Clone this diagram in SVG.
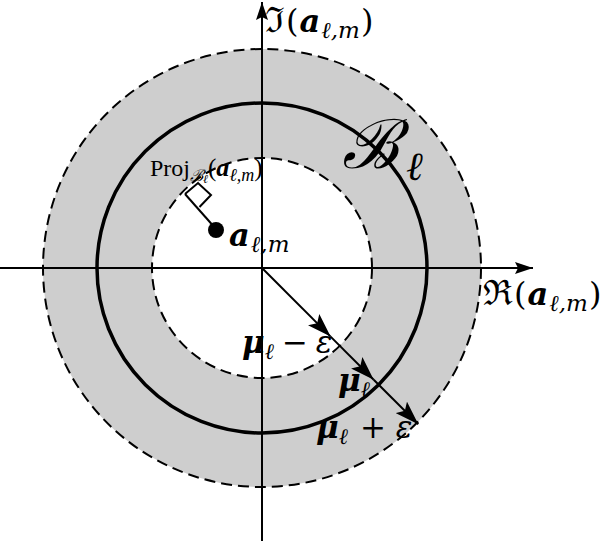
<svg xmlns="http://www.w3.org/2000/svg" width="600" height="541" viewBox="0 0 600 541">
<style>
.t{font-family:"Liberation Serif","DejaVu Serif",serif;fill:#000}
.m{font-family:"DejaVu Serif","Liberation Serif",serif;fill:#000}
.bi{font-weight:bold;font-style:italic}
.it{font-style:italic}
.dash{fill:none;stroke:#000;stroke-width:2;stroke-dasharray:11 6}
.ax{stroke:#000;stroke-width:2;fill:none}
</style>
<defs>
<marker id="ah" viewBox="0 0 24 16" refX="24" refY="8" markerWidth="24" markerHeight="16" markerUnits="userSpaceOnUse" orient="auto">
<path d="M0,0 L24,8 L0,16 L5,8 Z" fill="#000"/>
</marker>
<marker id="ax" viewBox="0 0 18 12" refX="18" refY="6" markerWidth="18" markerHeight="12" markerUnits="userSpaceOnUse" orient="auto">
<path d="M0,0 L18,6 L0,12 L3,6 Z" fill="#000"/>
</marker>
</defs>
<rect width="600" height="541" fill="#fff"/>
<g id="annulus">
<path d="M262,49 A219,219 0 1,0 262,487 A219,219 0 1,0 262,49 Z M262,158 A110,110 0 1,1 262,378 A110,110 0 1,1 262,158 Z" fill="#cecece" fill-rule="evenodd"/>
<circle cx="262" cy="268" r="219" class="dash"/>
<circle cx="262" cy="268" r="110" class="dash"/>
<circle cx="262" cy="268" r="165" fill="none" stroke="#000" stroke-width="3.5"/>
</g>
<g id="connectors">
<line x1="262" y1="541" x2="262" y2="2" class="ax" marker-end="url(#ax)"/>
<line x1="0" y1="268" x2="533" y2="268" class="ax" marker-end="url(#ax)"/>
<line x1="262" y1="268" x2="330.6" y2="336.6" class="ax" marker-end="url(#ah)"/>
<line x1="330.6" y1="336.6" x2="373.7" y2="379.7" class="ax" marker-end="url(#ah)"/>
<line x1="373.7" y1="379.7" x2="418.3" y2="424.3" class="ax" marker-end="url(#ah)"/>
<line x1="185" y1="194" x2="216" y2="229" class="ax"/>
<path d="M185,194 L198,183 L211,195 L199.5,207" class="ax"/>
</g>
<g id="point">
<circle cx="216" cy="230" r="8" fill="#000"/>
<text class="m" x="229" y="246" font-size="32"><tspan class="bi">a</tspan><tspan class="it" font-size="23" dy="6" dx="1">ℓ,m</tspan></text>
</g>
<g id="proj">
<text class="t" x="150" y="176" font-size="24">Proj<tspan class="it" font-size="16" dy="5">ℬ</tspan><tspan class="it" font-size="12" dy="2">ℓ</tspan><tspan dy="-7" font-size="25">(</tspan><tspan class="bi" font-size="26">a</tspan><tspan class="it" font-size="18" dy="5">ℓ,m</tspan><tspan dy="-5" font-size="25">)</tspan></text>
</g>
<g id="ball-label">
<text class="t it" x="342" y="168" font-size="68">ℬ</text>
<text class="t it" x="406" y="180" font-size="40">ℓ</text>
</g>
<g id="axis-labels">
<text class="m" x="265" y="32" font-size="32"><tspan font-size="35">ℑ</tspan><tspan dx="1">(</tspan><tspan class="bi" dx="1">a</tspan><tspan class="it" font-size="23" dy="6" dx="1">ℓ,m</tspan><tspan dy="-6" dx="1">)</tspan></text>
<text class="m" x="483" y="305" font-size="32"><tspan font-size="35">ℜ</tspan><tspan dx="1">(</tspan><tspan class="bi" dx="1">a</tspan><tspan class="it" font-size="23" dy="6" dx="1">ℓ,m</tspan><tspan dy="-6" dx="1">)</tspan></text>
</g>
<g id="mu-labels">
<text class="m" x="242" y="353" font-size="31"><tspan class="bi">μ</tspan><tspan class="it" font-size="22" dy="6">ℓ</tspan><tspan dy="-6" dx="8">−</tspan><tspan class="it" dx="8">ε</tspan></text>
<text class="m" x="338" y="391" font-size="31"><tspan class="bi">μ</tspan><tspan class="it" font-size="22" dy="6">ℓ</tspan></text>
<text class="m" x="316" y="438" font-size="31"><tspan class="bi">μ</tspan><tspan class="it" font-size="22" dy="6">ℓ</tspan><tspan dy="-6" dx="12">+</tspan><tspan class="it" dx="10">ε</tspan></text>
</g>
</svg>
